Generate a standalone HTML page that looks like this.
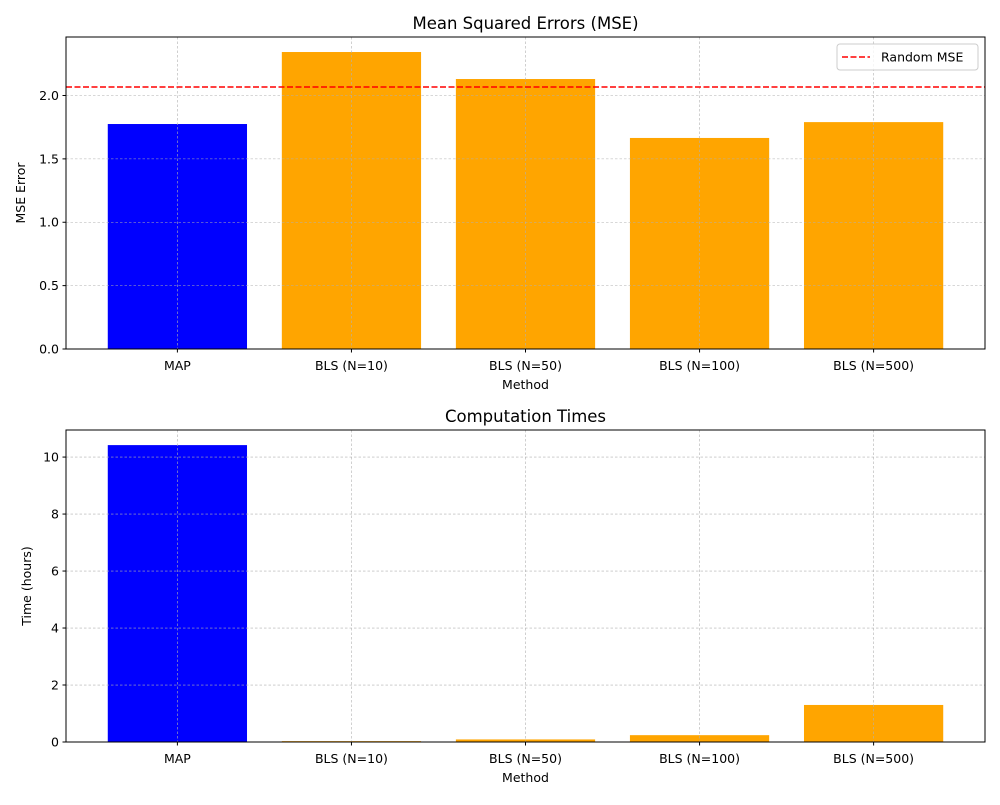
<!DOCTYPE html>
<html><head><meta charset="utf-8"><style>
body{margin:0;background:#fff;font-family:"Liberation Sans","DejaVu Sans",sans-serif;}
svg text{font-family:"DejaVu Sans","Liberation Sans",sans-serif;}
</style></head><body>
<svg id="chart" width="1000" height="800" xmlns="http://www.w3.org/2000/svg"></svg>
<script>
const categories=["MAP","BLS (N=10)","BLS (N=50)","BLS (N=100)","BLS (N=500)"];
const mseValues=[1.775,2.343,2.13,1.665,1.79];
const randomMse=2.067;
const timeValues=[10.42,0.03,0.09,0.24,1.3];
const mseTicks=[0,0.5,1.0,1.5,2.0];
const mseTickLabels=["0.0","0.5","1.0","1.5","2.0"];
const timeTicks=[0,2,4,6,8,10];
const barColors=["#0000ff","#ffa500","#ffa500","#ffa500","#ffa500"];

const svg=document.getElementById('chart');
const NS="http://www.w3.org/2000/svg";
function mk(tag,attrs,parent){const e=document.createElementNS(NS,tag);for(const k in attrs)e.setAttribute(k,attrs[k]);(parent||svg).appendChild(e);return e;}

function panel(p){
  const g=mk('g',{});
  
  
  const L=66,R=985,T=p.top,B=p.bottom;
  const xs=i=>L+(i+0.64)/5.28*(R-L);
  const ys=v=>B-(v/p.ymax)*(B-T);
  p.values.forEach((v,i)=>{
    const bw=0.8/5.28*(R-L);
    const r=mk('rect',{x:xs(i)-bw/2,y:ys(v),width:bw,height:B-ys(v),fill:barColors[i]},g);
    
    
  });
  categories.forEach((c,i)=>{mk('line',{x1:xs(i),x2:xs(i),y1:T,y2:B,stroke:'#b0b0b0','stroke-width':0.6,'stroke-dasharray':'2.5,2'},g);});
  p.ticks.forEach(t=>{mk('line',{x1:L,x2:R,y1:ys(t),y2:ys(t),stroke:'#b0b0b0','stroke-width':0.6,'stroke-dasharray':'2.5,2'},g);});
  if(p.extra)p.extra(g,ys,L,R);
  mk('rect',{x:L,y:T,width:R-L,height:B-T,fill:'none',stroke:'#000','stroke-width':1},g);
  categories.forEach((c,i)=>{
    mk('line',{x1:xs(i),x2:xs(i),y1:B,y2:B+3.5,stroke:'#000'},g);
    const t=mk('text',{x:xs(i),y:B+21,'text-anchor':'middle','font-size':12.5},g);t.textContent=c;
    
  });
  p.ticks.forEach((v,i)=>{
    mk('line',{x1:L-3.5,x2:L,y1:ys(v),y2:ys(v),stroke:'#000'},g);
    const t=mk('text',{x:L-7,y:ys(v)+4.5,'text-anchor':'end','font-size':12.5},g);t.textContent=p.labels[i];
    
  });
  const xt=mk('text',{x:(L+R)/2,y:B+40,'text-anchor':'middle','font-size':12.5},g);xt.textContent='Method';
  
  const yt=mk('text',{x:0,y:0,'text-anchor':'middle','font-size':12.5,transform:`translate(${p.ytx},${(T+B)/2}) rotate(-90)`},g);yt.textContent=p.ylabel;
  
  const tt=mk('text',{x:(L+R)/2,y:T-8,'text-anchor':'middle','font-size':16.5},g);tt.textContent=p.title;
  
}
panel({name:'mse-panel',key:'mse',top:37,bottom:349,ymax:2.4615,values:mseValues,ticks:mseTicks,labels:mseTickLabels,ylabel:'MSE Error',ytx:25,title:'Mean Squared Errors (MSE)',
 extra:(g,ys,L,R)=>{
  const l=mk('line',{x1:L,x2:R,y1:ys(randomMse),y2:ys(randomMse),stroke:'#ff0000','stroke-width':1.6,'stroke-dasharray':'6,2.5'},g);
  
  const lg=mk('g',{},g);
  mk('rect',{x:837,y:44,width:141,height:26,fill:'#fff','fill-opacity':0.8,stroke:'#ccc',rx:3},lg);
  mk('line',{x1:842,x2:870,y1:57,y2:57,stroke:'#ff0000','stroke-width':1.6,'stroke-dasharray':'6,2.5'},lg);
  const t=mk('text',{x:881,y:61.5,'font-size':12.5},lg);t.textContent='Random MSE';
  
 }});
panel({name:'time-panel',key:'time',top:430,bottom:742,ymax:10.95,values:timeValues,ticks:timeTicks,labels:timeTicks.map(String),ylabel:'Time (hours)',ytx:31,title:'Computation Times'});
</script>
</body></html>
